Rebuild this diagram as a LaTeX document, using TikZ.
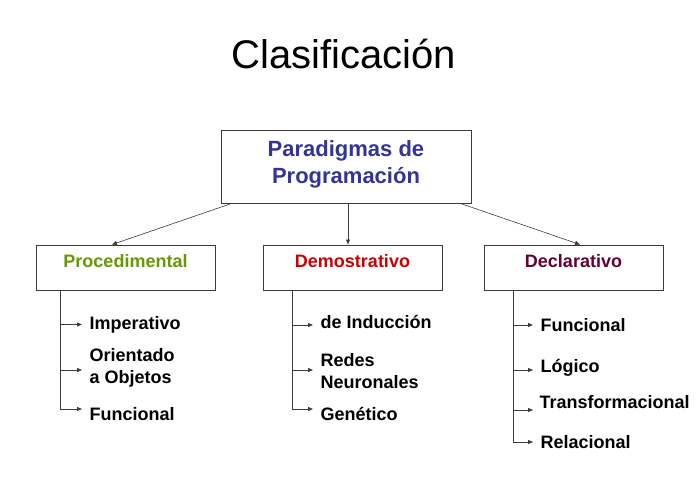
\documentclass[tikz,border=0pt]{standalone}
\usepackage{fontspec}
\setmainfont[Ligatures=NoCommon]{Liberation Sans}
\usetikzlibrary{arrows.meta}
\definecolor{pblue}{RGB}{51,51,153}
\definecolor{pgreen}{RGB}{102,153,0}
\definecolor{pred}{RGB}{204,0,0}
\definecolor{pmaroon}{RGB}{102,0,51}
\definecolor{lgray}{RGB}{60,60,60}
\tikzset{
  box/.style={draw=lgray,line width=0.9pt,inner sep=0pt,minimum width=179pt,minimum height=45pt},
  boxlabel/.style={font=\fontsize{18}{21}\selectfont\bfseries,anchor=base},
  leaf/.style={font=\fontsize{18}{22.5}\selectfont\bfseries,anchor=base west,inner xsep=7.5pt,inner ysep=0pt,text height=13pt,text depth=4pt},
  leaftwo/.style={font=\fontsize{18}{22.5}\selectfont\bfseries,anchor=west,inner xsep=7.5pt,inner ysep=0pt,align=left},
  arr/.style={draw=lgray,line width=0.8pt,-{Triangle[length=5pt,width=4pt]}},
}
\begin{document}
\begin{tikzpicture}[x=1pt,y=-1pt]
\useasboundingbox (0,0) rectangle (697,479);
\node[font=\fontsize{40}{48}\selectfont,anchor=base] (title) at (344,68) {Clasificación};
% top box
\node[draw=lgray,line width=0.9pt,minimum width=250pt,minimum height=73pt,inner sep=0pt] (top) at (346,166.5) {};
\node[font=\fontsize{22}{27}\selectfont\bfseries,text=pblue,anchor=base] (t1) at (346,156) {Paradigmas de};
\node[font=\fontsize{22}{27}\selectfont\bfseries,text=pblue,anchor=base] (t2) at (346,183) {Programación};
% second level boxes
\node[box] (proc) at (125.5,267.5) {};
\node[box] (demo) at (352.5,267.5) {};
\node[box] (decl) at (573.5,267.5) {};
\node[boxlabel,text=pgreen] (procl) at (125.5,267) {Procedimental};
\node[boxlabel,text=pred] (demol) at (352.5,267) {Demostrativo};
\node[boxlabel,text=pmaroon] (decll) at (573.5,267) {Declarativo};
% top connectors
\draw[arr,line width=0.6pt] ([xshift=11pt]top.south west) -- ([xshift=-13.5pt]proc.north);
\draw[arr,line width=0.6pt] ([xshift=2pt]top.south) -- ([xshift=-4.5pt]demo.north);
\draw[arr,line width=0.6pt] ([xshift=-11pt]top.south east) -- ([xshift=6.5pt]decl.north);
% leaves procedimental
\node[leaf] (p1) at (82,329) {Imperativo};
\node[leaftwo] (p2) at (82,368) {Orientado\\a Objetos};
\node[leaf] (p3) at (82,420) {Funcional};
\coordinate (pv) at ([xshift=-65.5pt]proc.south);
\draw[arr] (pv) |- (p1.west);
\draw[arr] (pv) |- ([yshift=-2pt]p2.west);
\draw[arr] (pv) |- ([yshift=6.5pt]p3.west);
% leaves demostrativo
\node[leaf] (d1) at (313,328) {de Inducción};
\node[leaftwo] (d2) at (313,371) {Redes\\Neuronales};
\node[leaf] (d3) at (313,420) {Genético};
\coordinate (dv) at ([xshift=-60.5pt]demo.south);
\draw[arr] (dv) |- ([yshift=-1.5pt]d1.west);
\draw[arr] (dv) |- ([yshift=1pt]d2.west);
\draw[arr] (dv) |- ([yshift=6.5pt]d3.west);
% leaves declarativo
\node[leaf] (c1) at (533,331) {Funcional};
\node[leaf] (c2) at (533,372) {Lógico};
\node[leaf,inner xsep=6.5pt] (c3) at (533,408) {Transformacional};
\node[leaf] (c4) at (533,448) {Relacional};
\coordinate (cv) at ([xshift=-60.5pt]decl.south);
\draw[arr] (cv) |- ([yshift=1.5pt]c1.west);
\draw[arr] (cv) |- ([yshift=-2.5pt]c2.west);
\draw[arr] (cv) |- ([yshift=-6.5pt]c3.west);
\draw[arr] (cv) |- ([yshift=1.5pt]c4.west);
\end{tikzpicture}
\end{document}
